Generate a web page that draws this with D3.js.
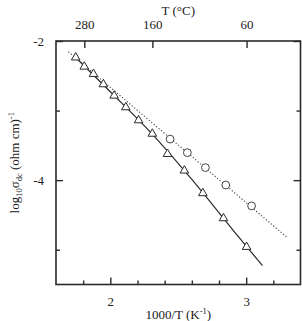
<!DOCTYPE html>
<html><head><meta charset="utf-8">
<script src="https://cdn.jsdelivr.net/npm/d3@7"></script>
<style>body{margin:0;background:#fff}svg{display:block}text{font-family:"Liberation Serif","Times New Roman",serif;fill:#222}</style>
</head><body><svg id="c" width="302" height="321"></svg>
<script>
// Triangles: 1000/T for T = 300..60 °C
const triX = [1.745, 1.808, 1.876, 1.949, 2.028, 2.114, 2.208, 2.309, 2.421, 2.545, 2.681, 2.833, 3.003];
const triY = [-2.237, -2.369, -2.474, -2.622, -2.786, -2.953, -3.140, -3.333, -3.624, -3.863, -4.188, -4.548, -4.960];
// Circles
const cirX = [2.440, 2.567, 2.700, 2.850, 3.040];
const cirY = [-3.410, -3.605, -3.820, -4.070, -4.370];
// Solid fitted curve
const fitX = [1.745, 2.0, 2.3, 2.6, 2.9, 3.12];
const fitY = [-2.237, -2.73, -3.32, -3.99, -4.71, -5.23];
// Dotted fitted line
const dotX = [1.691, 3.303];
const dotY = [-2.154, -4.826];
// Axis ticks
const xMajor = [2, 3];
const xMinor = [1.8, 2.2, 2.4, 2.6, 2.8, 3.2];
const yMajor = [-2, -4];
const yMinor = [-3, -5];
const topTicksC = [280, 160, 60];

const svg = d3.select("#c");
const pL = 56, pR = 300.5, pT = 41, pB = 284.5;
const x = d3.scaleLinear().domain([1.6, 3.4]).range([pL, pR]);
const y = d3.scaleLinear().domain([-5.5, -2]).range([pB, pT]);
const ink = "#2a2a2a";

// dotted line
svg.append("path")
  .attr("d", d3.line().x(d => x(d[0])).y(d => y(d[1]))(dotX.map((v, i) => [v, dotY[i]])))
  .attr("fill", "none").attr("stroke", "#444").attr("stroke-width", 1.1).attr("stroke-dasharray", "1.2,2");
// solid curve
svg.append("path")
  .attr("d", d3.line().curve(d3.curveMonotoneX).x(d => x(d[0])).y(d => y(d[1]))(fitX.map((v, i) => [v, fitY[i]])))
  .attr("fill", "none").attr("stroke", ink).attr("stroke-width", 1.2);

// triangles
const tri = d3.symbol().type(d3.symbolTriangle).size(32);
svg.append("g").selectAll("path").data(triX.map((v, i) => [v, triY[i]])).join("path")
  .attr("d", tri).attr("transform", d => `translate(${x(d[0])},${y(d[1])})`)
  .attr("fill", "#fff").attr("stroke", ink).attr("stroke-width", 1);
// circles
svg.append("g").selectAll("circle").data(cirX.map((v, i) => [v, cirY[i]])).join("circle")
  .attr("cx", d => x(d[0])).attr("cy", d => y(d[1])).attr("r", 3.9)
  .attr("fill", "#fff").attr("stroke", "#444").attr("stroke-width", 1);

// frame
svg.append("rect").attr("x", pL).attr("y", pT).attr("width", pR - pL).attr("height", pB - pT)
  .attr("fill", "none").attr("stroke", ink).attr("stroke-width", 1.6);

// bottom axis
svg.append("g").attr("transform", `translate(0,${pB})`)
  .call(d3.axisBottom(x).tickValues(xMajor).tickSize(-7).tickPadding(12).tickFormat(d3.format("d")));
svg.append("g").attr("transform", `translate(0,${pB})`)
  .call(d3.axisBottom(x).tickValues(xMinor).tickSize(-4).tickFormat(""));
// top axis (T in °C)
svg.append("g").attr("transform", `translate(0,${pT})`)
  .call(d3.axisTop(x).tickValues(topTicksC.map(c => 1000 / (c + 273))).tickSize(-7).tickPadding(12)
  .tickFormat((d, i) => topTicksC[i]));
// left axis
svg.append("g").attr("transform", `translate(${pL},0)`)
  .call(d3.axisLeft(y).tickValues(yMajor).tickSize(-7).tickPadding(12).tickFormat(d => String(d)));
svg.append("g").attr("transform", `translate(${pL},0)`)
  .call(d3.axisLeft(y).tickValues(yMinor).tickSize(-4).tickFormat(""));
// right axis
svg.append("g").attr("transform", `translate(${pR},0)`)
  .call(d3.axisRight(y).tickValues(yMajor).tickSize(-7).tickFormat(""));
svg.append("g").attr("transform", `translate(${pR},0)`)
  .call(d3.axisRight(y).tickValues(yMinor).tickSize(-4).tickFormat(""));

svg.selectAll(".domain").remove();
svg.selectAll(".tick line").attr("stroke", ink).attr("stroke-width", 1.4);
svg.selectAll(".tick text").attr("font-family", "Liberation Serif").attr("font-size", 13).attr("fill", "#222");

// axis titles
const bt = svg.append("text").attr("x", (pL + pR) / 2).attr("y", 319).attr("text-anchor", "middle").attr("font-size", 13);
bt.append("tspan").text("1000/T (K");
bt.append("tspan").attr("font-size", 8.5).attr("dy", -5).text("-1");
bt.append("tspan").attr("dy", 5).text(")");

svg.append("text").attr("x", (pL + pR) / 2).attr("y", 15).attr("text-anchor", "middle").attr("font-size", 13).text("T (°C)");

const yl = svg.append("text").attr("transform", `translate(19,${(pT + pB) / 2}) rotate(-90)`)
  .attr("text-anchor", "middle").attr("font-size", 13);
yl.append("tspan").text("log");
yl.append("tspan").attr("font-size", 8.5).attr("dy", 3).text("10");
yl.append("tspan").attr("dy", -3).text("σ");
yl.append("tspan").attr("font-size", 8.5).attr("dy", 3).text("dc");
yl.append("tspan").attr("dy", -3).text(" (ohm cm)");
yl.append("tspan").attr("font-size", 8.5).attr("dy", -5).text("-1");
</script></body></html>
